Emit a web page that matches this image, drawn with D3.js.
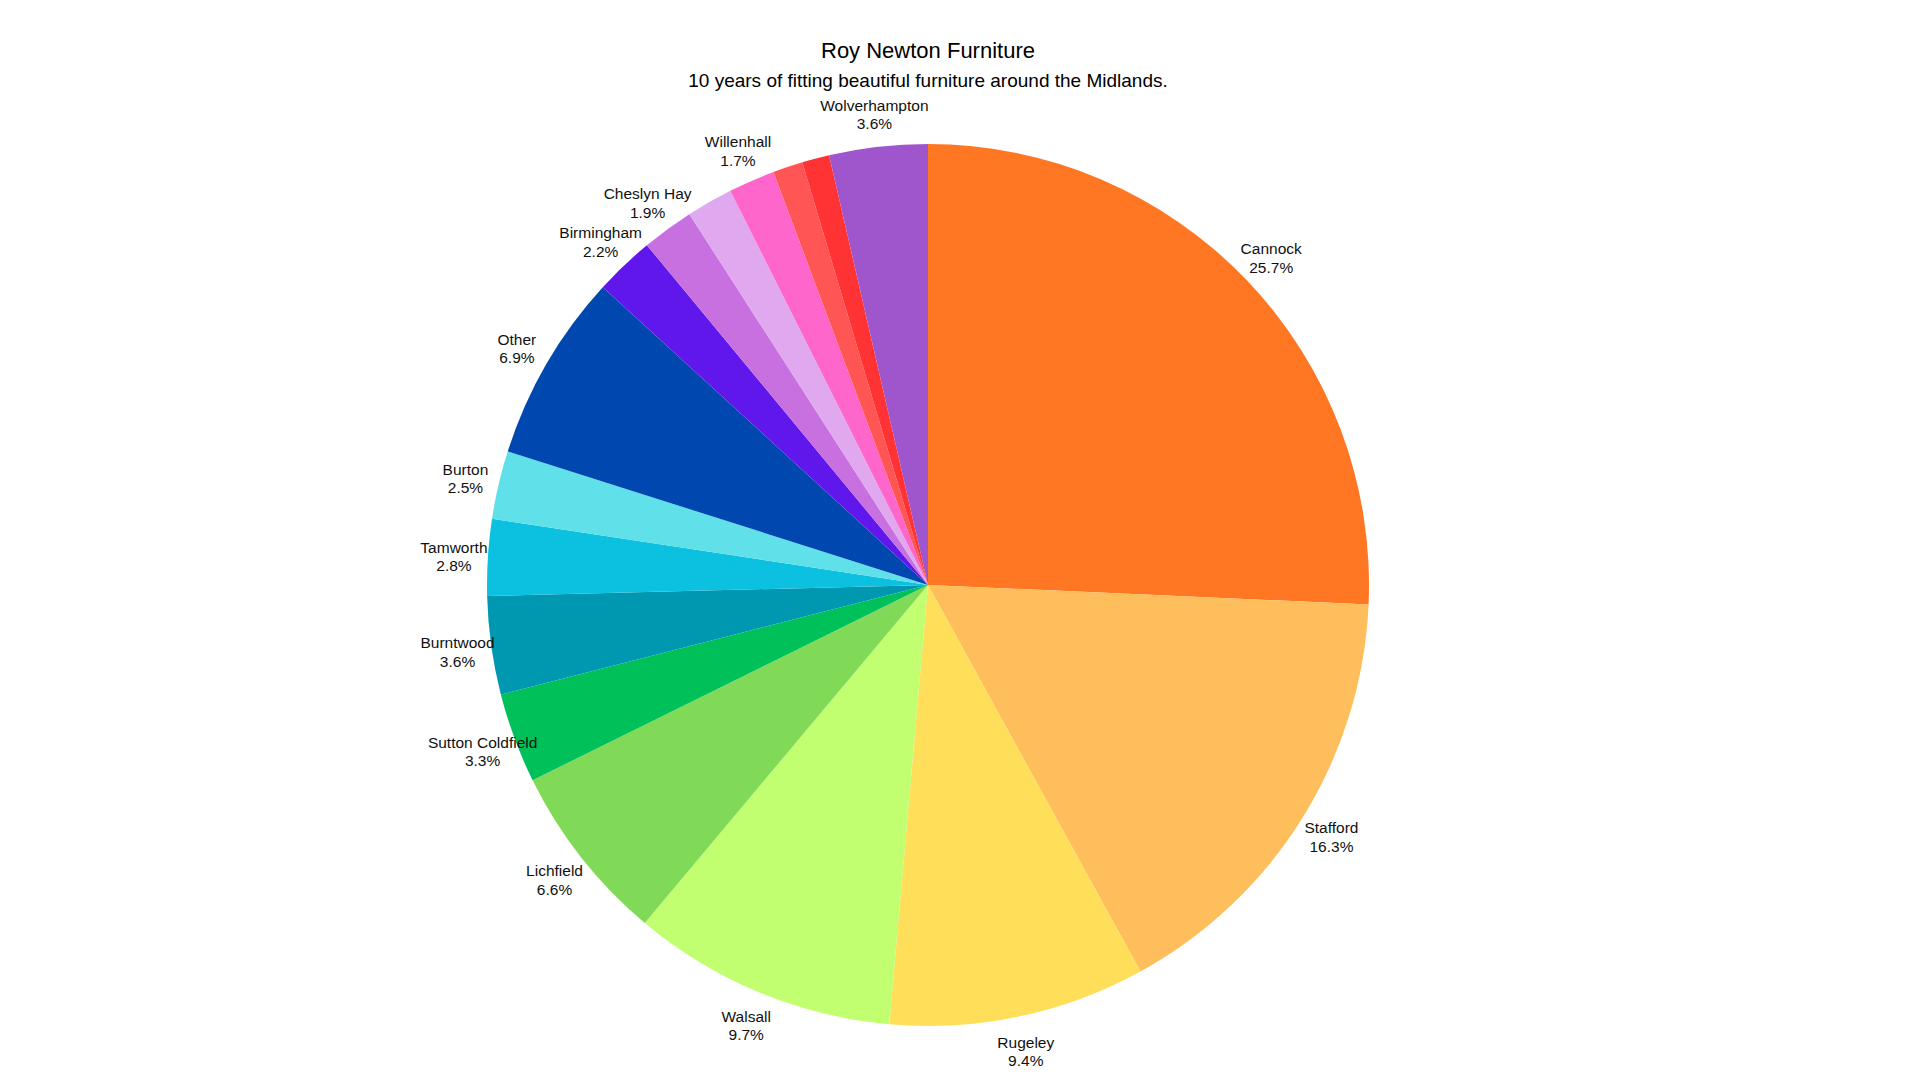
<!DOCTYPE html><html><head><meta charset="utf-8"><script src="https://cdn.jsdelivr.net/npm/d3@7"></script>
<style>body{margin:0;background:#fff}</style></head><body><svg id="c" width="1920" height="1080"></svg>
<script>
const categories=["Cannock","Stafford","Rugeley","Walsall","Lichfield","Sutton Coldfield","Burntwood","Tamworth","Burton","Other","Birmingham","Cheslyn Hay","","Willenhall","","","Wolverhampton"];
const values=[25.7,16.3,9.4,9.7,6.6,3.3,3.6,2.8,2.5,6.9,2.2,1.9,1.7,1.7,1.1,1.0,3.6];
const colors=["#ff7722","#ffbe5c","#ffdf5a","#c2ff70","#80da58","#00c05a","#0098b0","#0cc0e0","#60e0e8","#0048b0","#5f17eb","#c870e0","#e0a8ef","#ff66cc","#ff5555","#ff3333","#9f55cc"];
const svg=d3.select("#c"),cx=928,cy=585,R=441,LR=475;
svg.append("text").attr("x",928).attr("y",58).attr("text-anchor","middle").attr("font-family","Liberation Sans, Arial").attr("font-size",22).text("Roy Newton Furniture");
svg.append("text").attr("x",928).attr("y",87).attr("text-anchor","middle").attr("font-family","Liberation Sans, Arial").attr("font-size",19).text("10 years of fitting beautiful furniture around the Midlands.");
const data=categories.map((c,i)=>({c,v:values[i],col:colors[i]}));
const pie=d3.pie().value(d=>d.v).sort(null);
const arcs=pie(data);
const g=svg.append("g").attr("transform",`translate(${cx},${cy})`);
g.selectAll("path").data(arcs).join("path").attr("d",d3.arc().innerRadius(0).outerRadius(R)).attr("fill",d=>d.data.col);
const total=d3.sum(values);
const lab=g.selectAll("text").data(arcs.filter(d=>d.data.c)).join("text").attr("text-anchor","middle").attr("font-family","Liberation Sans, Arial").attr("font-size",15.5).attr("fill","#111")
 .attr("transform",d=>{const a=(d.startAngle+d.endAngle)/2;return `translate(${LR*Math.sin(a)},${-LR*Math.cos(a)})`;});
lab.append("tspan").attr("x",0).attr("dy","-0.15em").text(d=>d.data.c);
lab.append("tspan").attr("x",0).attr("dy","1.2em").text(d=>(d.data.v/total*100).toFixed(1)+"%");
</script></body></html>
